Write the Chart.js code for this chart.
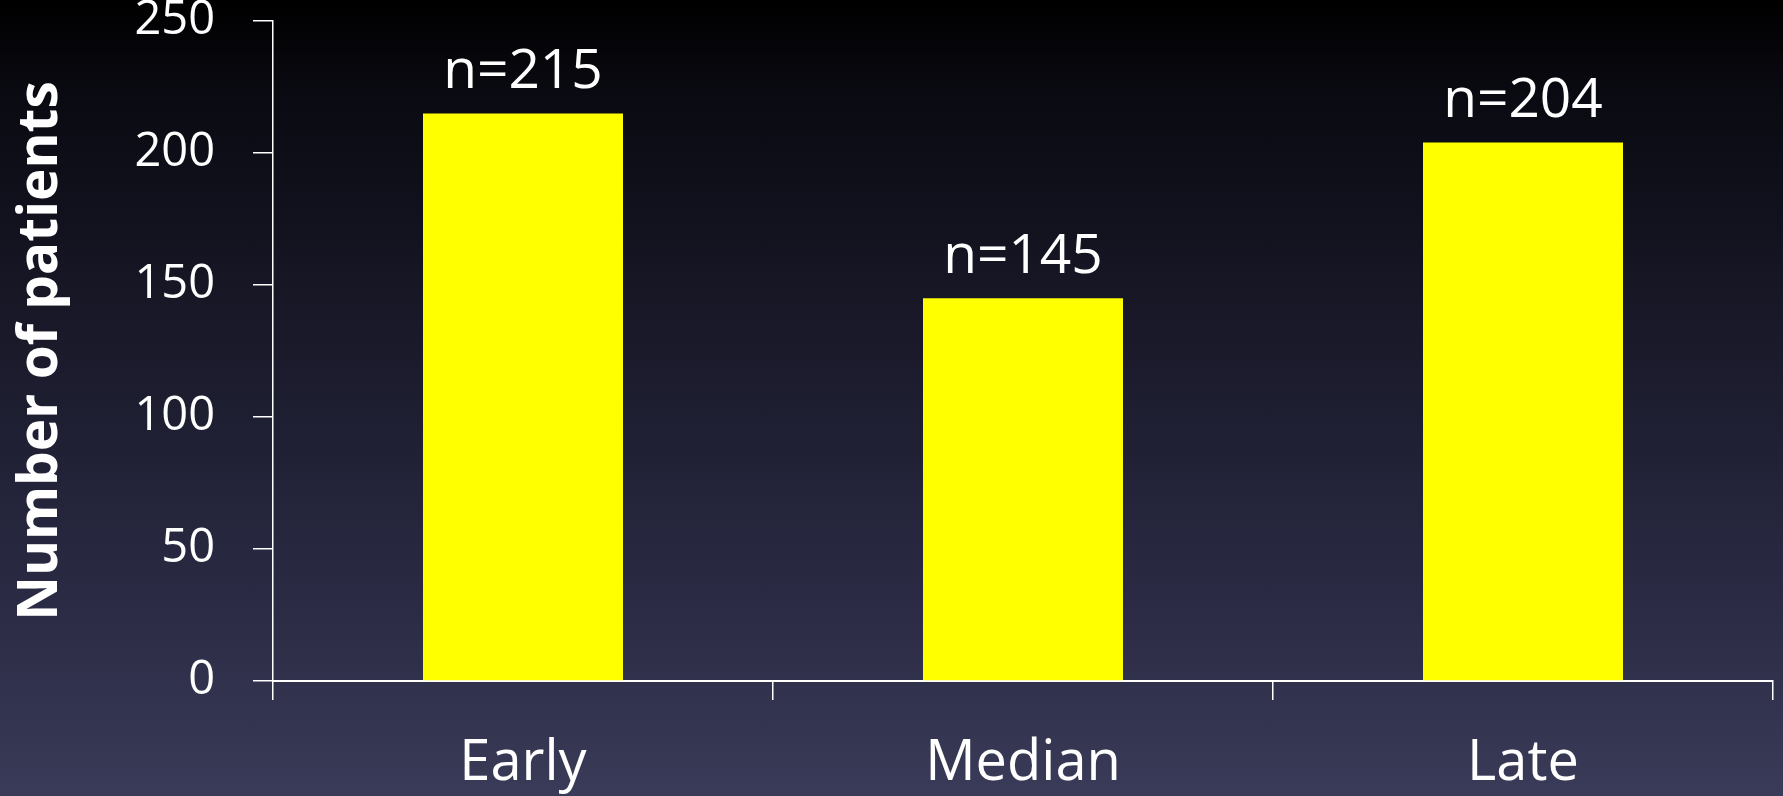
<!DOCTYPE html>
<html>
<head>
<meta charset="utf-8">
<script src="https://cdn.jsdelivr.net/npm/chart.js@4/dist/chart.umd.min.js"></script>
<style>
    html, body {
        margin: 0;
        padding: 0;
        width: 1783px;
        height: 796px;
        overflow: hidden;
        background: linear-gradient(to bottom, #000000 0%, #0a0a12 12%, #2a2a44 75%, #3a3b58 100%);
    }
    #wrap {
        width: 1783px;
        height: 796px;
    }
</style>
</head>
<body>
<div id="wrap"><canvas id="patientsChart"></canvas></div>
<script>
const categories = ['Early', 'Median', 'Late'];
const patientCounts = [215, 145, 204];
const barLabels = ['n=215', 'n=145', 'n=204'];
const yTicks = [0, 50, 100, 150, 200, 250];

// draws the "n=..." text above each bar
const barLabelPlugin = {
    id: 'barLabels',
    afterDatasetsDraw(chart) {
        const ctx = chart.ctx;
        const meta = chart.getDatasetMeta(0);
        ctx.save();
        ctx.fillStyle = '#ffffff';
        ctx.font = '55px "Open Sans"';
        ctx.textAlign = 'center';
        ctx.textBaseline = 'alphabetic';
        meta.data.forEach(function (bar, i) {
            ctx.fillText(barLabels[i], bar.x, bar.y - 25);
        });
        ctx.restore();
    }
};

const chartConfig = {
    type: 'bar',
    data: {
        labels: categories,
        datasets: [{
            label: 'Number of patients',
            data: patientCounts,
            backgroundColor: '#ffff00',
            borderWidth: 0,
            barPercentage: 0.4,
            categoryPercentage: 1.0
        }]
    },
    options: {
        responsive: true,
        maintainAspectRatio: false,
        animation: false,
        layout: {
            padding: { top: 21, right: 10, left: 0, bottom: 0 }
        },
        plugins: {
            legend: { display: false },
            tooltip: { enabled: false }
        },
        scales: {
            x: {
                offset: true,
                grid: {
                    offset: true,
                    drawOnChartArea: false,
                    drawTicks: true,
                    tickLength: 19,
                    color: '#ffffff',
                    lineWidth: 1.5
                },
                border: { color: '#ffffff', width: 2 },
                ticks: {
                    color: '#ffffff',
                    font: { family: 'Open Sans', size: 56 },
                    padding: 30
                },
                afterFit: function (scale) {
                    scale.height = 115;
                }
            },
            y: {
                min: 0,
                max: 250,
                afterBuildTicks: function (scale) {
                    scale.ticks = yTicks.map(v => ({ value: v }));
                },
                grid: {
                    drawOnChartArea: false,
                    drawTicks: true,
                    tickLength: 20,
                    color: '#ffffff',
                    lineWidth: 1.5
                },
                border: { color: '#ffffff', width: 1.5 },
                ticks: {
                    color: '#ffffff',
                    font: { family: 'Open Sans', size: 47 },
                    padding: 38
                },
                title: {
                    display: true,
                    text: 'Number of patients',
                    color: '#ffffff',
                    font: { family: 'Open Sans', size: 55, weight: 'bold' },
                    padding: { top: 8, bottom: 0 }
                },
                afterFit: function (scale) {
                    scale.width = 273;
                    scale.paddingTop = 0;
                    scale.paddingBottom = 0;
                }
            }
        }
    },
    plugins: [barLabelPlugin]
};

new Chart(document.getElementById('patientsChart'), chartConfig);
</script>
</body>
</html>
